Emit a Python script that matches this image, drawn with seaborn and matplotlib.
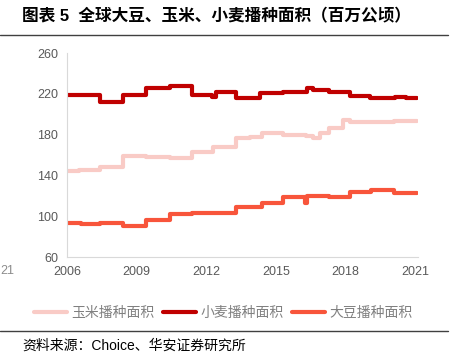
import numpy as np
import pandas as pd
import seaborn as sns
import matplotlib.pyplot as plt
from matplotlib.lines import Line2D

# step change points (decimal year) and values, million ha
wheat_t = [2006.0, 2006.6, 2007.42, 2008.4, 2009.4, 2010.44, 2011.4, 2012.24, 2012.42, 2013.3,
           2014.3, 2015.3, 2016.33, 2016.6, 2017.3, 2018.2, 2019.06, 2020.14, 2020.6, 2021.1]
wheat_v = [219.0, 218.5, 212.3, 218.5, 225.4, 227.4, 218.8, 216.5, 221.5, 215.6,
           221.0, 222.0, 225.4, 223.7, 222.0, 218.2, 215.6, 216.5, 215.8, 215.8]

corn_t = [2006.0, 2006.5, 2007.42, 2008.4, 2009.4, 2010.44, 2011.4, 2012.3, 2013.3, 2013.9,
          2014.4, 2015.3, 2016.3, 2016.6, 2016.9, 2017.3, 2017.9, 2018.2, 2020.1, 2021.1]
corn_v = [144.3, 145.0, 148.6, 159.3, 157.7, 157.0, 163.3, 168.2, 176.4, 178.0,
          181.3, 179.7, 178.7, 177.0, 181.3, 187.0, 194.3, 192.0, 193.6, 193.6]

soy_t = [2006.0, 2006.6, 2007.42, 2008.4, 2009.4, 2010.44, 2011.4, 2013.3, 2014.4, 2015.3,
         2016.25, 2016.32, 2017.3, 2018.2, 2019.1, 2020.1, 2021.1]
soy_v = [93.0, 92.3, 93.6, 90.4, 96.3, 101.8, 102.8, 109.3, 112.6, 118.5,
         112.6, 120.1, 119.3, 124.0, 125.5, 122.5, 122.5]

labels = ['玉米播种面积', '小麦播种面积', '大豆播种面积']
colors = ['#F9CBC6', '#C00000', '#F8553B']
xticks = [2006, 2009, 2012, 2015, 2018, 2021]
yticks = [60, 100, 140, 180, 220, 260]

sns.set_style('white')
plt.rcParams['font.family'] = ['Liberation Sans', 'Noto Sans CJK SC', 'DejaVu Sans']

fig = plt.figure(figsize=(4.56, 3.59), dpi=100)
ax = fig.add_axes([0.147, 0.284, 0.77, 0.568])

series = [(corn_t, corn_v), (wheat_t, wheat_v), (soy_t, soy_v)]
for (t, v), lab, c in zip(series, labels, colors):
    sns.lineplot(x=t, y=v, ax=ax, color=c, linewidth=3, drawstyle='steps-post',
                 label=lab, legend=False)

ax.set_xlim(2006, 2021.13)
ax.set_ylim(60, 260)
ax.set_xticks(xticks)
ax.set_yticks(yticks)
ax.tick_params(axis='both', labelsize=9, colors='#D9D9D9', labelcolor='#595959',
               length=3, width=0.8, direction='out')
for s in ['top', 'right']:
    ax.spines[s].set_visible(False)
for s in ['left', 'bottom']:
    ax.spines[s].set_color('#D9D9D9')
    ax.spines[s].set_linewidth(0.8)

handles = [Line2D([], [], color=c, linewidth=3) for c in colors]
fig.legend(handles, labels, loc='center', bbox_to_anchor=(223 / 456, 1 - 313 / 359),
           ncol=3, frameon=False, fontsize=10, labelcolor='#808080',
           handlelength=2.4, handletextpad=0.3, columnspacing=0.6)

# title, rules and source
fig.text(22 / 456, 1 - 16 / 359, '图表 5  全球大豆、玉米、小麦播种面积（百万公顷）',
         fontsize=12, fontweight='bold', va='center', color='#000000')
fig.add_artist(Line2D([0, 448 / 456], [1 - 35 / 359] * 2, color='#404040', linewidth=1))
fig.add_artist(Line2D([0, 448 / 456], [1 - 331 / 359] * 2, color='#404040', linewidth=1))
fig.text(22 / 456, 1 - 346 / 359, '资料来源：Choice、华安证券研究所',
         fontsize=10, va='center', color='#000000')
# remnant of a neighbouring chart's tick label at the left edge
fig.text(0.5 / 456, 1 - 271 / 359, '21', fontsize=9, color='#8C8C8C', ha='left', va='center')

fig.savefig('out.png', dpi=100)
